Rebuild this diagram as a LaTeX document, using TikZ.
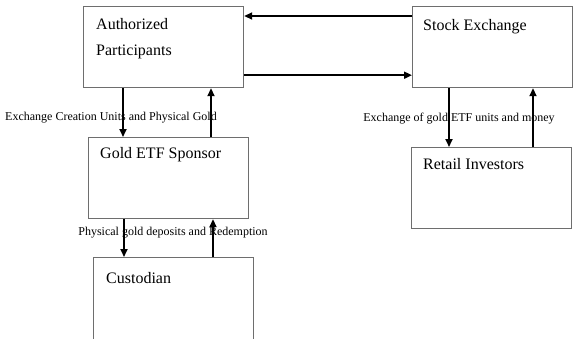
\documentclass[tikz,border=0pt]{standalone}
\usepackage{fontspec}
\setmainfont{Liberation Serif}
\usepackage{tikz}
\usetikzlibrary{arrows.meta,positioning,calc}
\definecolor{boxline}{RGB}{110,110,110}
\tikzset{
  box/.style  ={rectangle, draw=boxline, line width=1.2pt, anchor=north west,
                minimum width=160pt, minimum height=81pt, inner sep=0pt},
  txt/.style  ={anchor=north west, align=left, inner sep=0pt,
                font=\fontsize{16}{26}\selectfont},
  flow/.style ={-{Triangle[length=8pt,width=7pt]}, line width=1.8pt},
  lbl/.style  ={font=\fontsize{12}{13}\selectfont, inner sep=0pt},
}
\begin{document}
\begin{tikzpicture}[x=1pt,y=-1pt]
    \useasboundingbox (0,0) rectangle (578,338);
    \clip (0,0) rectangle (578,338);

    \node[box] (ap)  at (83,6)   {};
    \node[box] (se)  at (412,6)  {};
    \node[box] (sp)  at (88,137) {};
    \node[box] (ri)  at (411,147) {};
    \node[box, minimum height=95pt] (cu) at (93,257) {};

    \node[txt] (apt) at ([xshift=13pt,yshift=-12pt]ap.north west) {Authorized\\Participants};
    \node[txt] (set) at ([xshift=11pt,yshift=-13pt]se.north west) {Stock Exchange};
    \node[txt] (spt) at ([xshift=12pt,yshift=-10pt]sp.north west) {Gold ETF Sponsor};
    \node[txt] (rit) at ([xshift=12pt,yshift=-11pt]ri.north west) {Retail Investors};
    \node[txt] (cut) at ([xshift=13pt,yshift=-15pt]cu.north west) {Custodian};

    \node[lbl] (l1) at (111,118) {Exchange Creation Units and Physical Gold};
    \node[lbl] (l2) at (459,119) {Exchange of gold ETF units and money};
    \node[lbl] (l3) at (173,233) {Physical gold deposits and Redemption};

    % top pair
    \draw[flow] ([yshift=-10pt]se.north west) -- ([yshift=-10pt]ap.north east);
    \draw[flow] ([yshift=13pt]ap.south east) -- ([yshift=13pt]se.south west);

    % AP and sponsor
    \draw[flow] ([xshift=40pt]ap.south west) -- ([xshift=40pt]ap.south west |- sp.north);
    \draw[flow] ([xshift=123pt]sp.north west) -- ([xshift=123pt]sp.north west |- ap.south);

    % exchange and investors
    \draw[flow] ([xshift=37pt]se.south west) -- ([xshift=37pt]se.south west |- ri.north);
    \draw[flow] ([xshift=122pt]ri.north west) -- ([xshift=122pt]ri.north west |- se.south);

    % sponsor and custodian
    \draw[flow] ([xshift=36pt]sp.south west) -- ([xshift=36pt]sp.south west |- cu.north);
    \draw[flow] ([xshift=120pt]cu.north west) -- ([xshift=120pt]cu.north west |- sp.south);
\end{tikzpicture}
\end{document}
